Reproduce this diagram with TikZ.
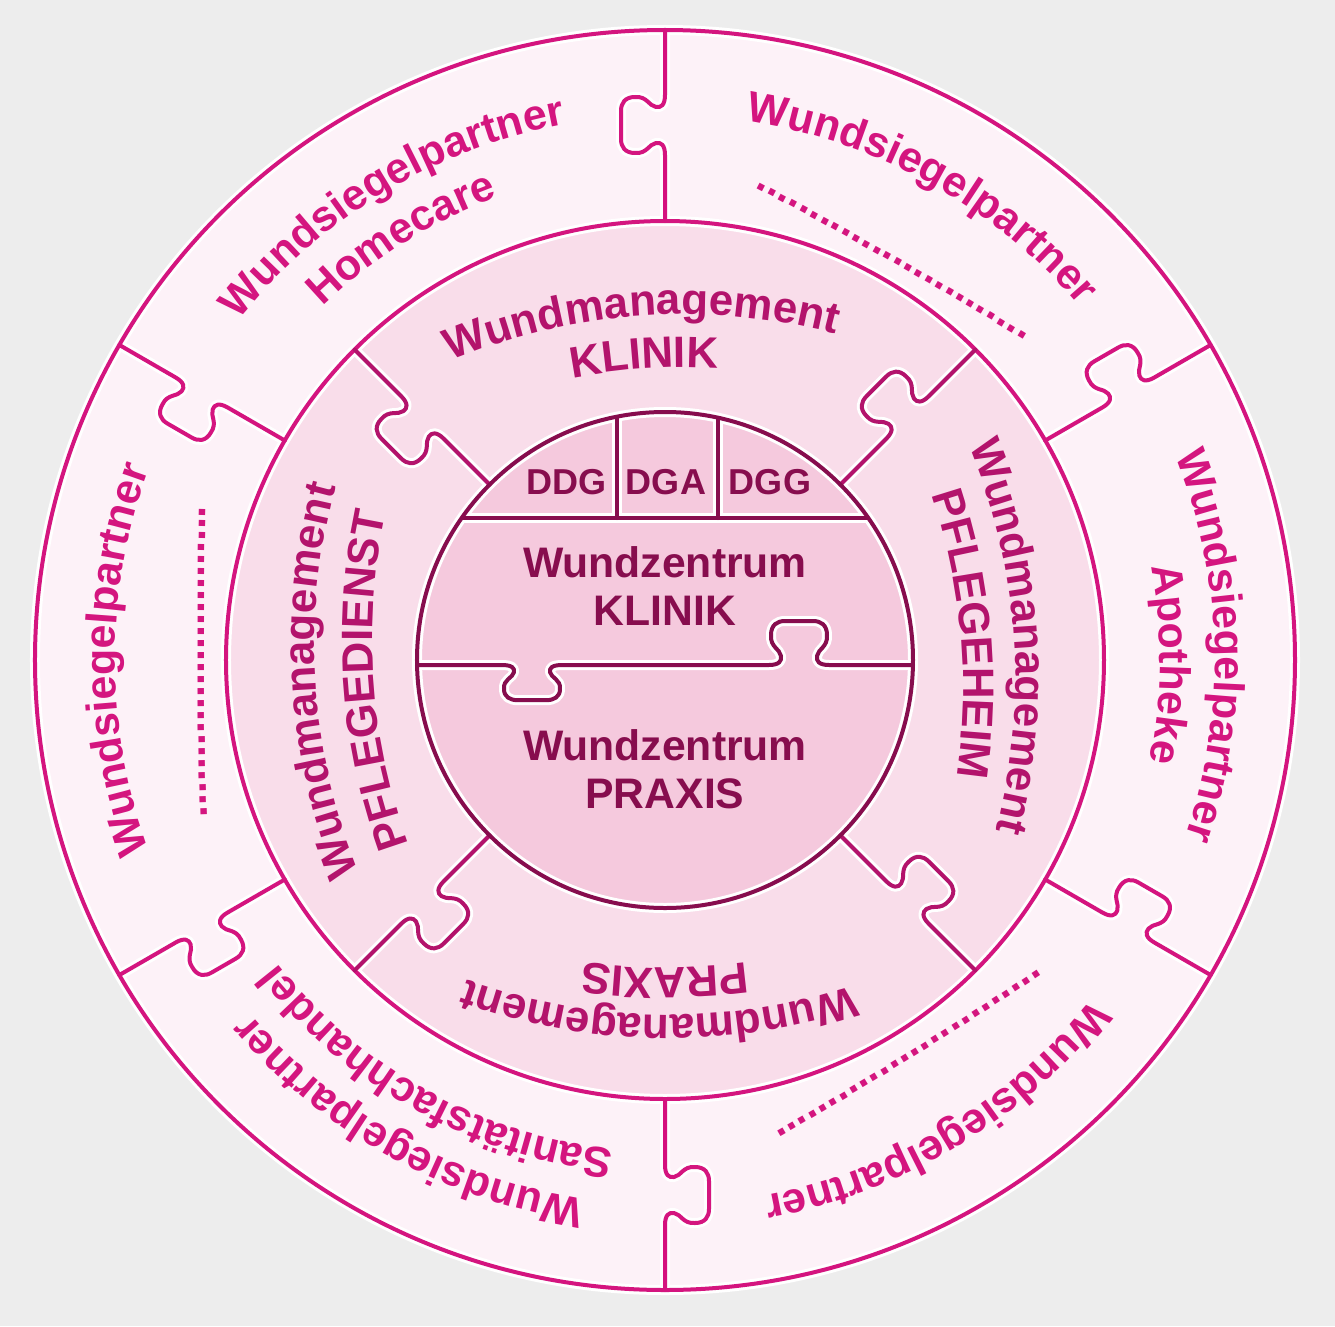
\documentclass[tikz,border=0pt]{standalone}
\usepackage{fontspec}
\setmainfont{Liberation Sans}
\usetikzlibrary{decorations.text}

\definecolor{bggray}{HTML}{EDEDED}
\definecolor{ringA}{HTML}{FDF2F8}
\definecolor{ringB}{HTML}{F9DDEA}
\definecolor{ringC}{HTML}{F5C9DD}
\definecolor{magA}{HTML}{D4157F}
\definecolor{magB}{HTML}{B3136C}
\definecolor{magC}{HTML}{870D4E}

% one puzzle knob on the local x axis, centred at #1, height scaled by #2
\newcommand\knob[2]{-- ({#1-30},0) .. controls ({#1-20},0) and ({#1-17},{4*#2}) .. ({#1-18},{9*#2})
  .. controls ({#1-19},{16*#2}) and ({#1-29},{18*#2}) .. ({#1-28},{30*#2})
  .. controls ({#1-28},{40*#2}) and ({#1-22},{44*#2}) .. ({#1-14},{44*#2}) -- ({#1+14},{44*#2})
  .. controls ({#1+22},{44*#2}) and ({#1+28},{40*#2}) .. ({#1+28},{30*#2})
  .. controls ({#1+29},{18*#2}) and ({#1+19},{16*#2}) .. ({#1+18},{9*#2})
  .. controls ({#1+17},{4*#2}) and ({#1+20},0) .. ({#1+30},0)}

% all cut lines of the puzzle: outer, middle, inner colour, width
\newcommand\puzzlelines[4]{%
  \draw[ln={#1}{#4}] (0,0) circle[radius=630] (0,0) circle[radius=439];
  \foreach \a in {30,90,...,330}
    \draw[ln={#1}{#4}, rotate=\a] (439,0) \knob{535}{1} -- (630,0);
  \foreach \a in {45,135,...,315}
    \draw[ln={#2}{#4}, rotate=\a] (248,0) \knob{343}{1} -- (439,0);
  \draw[ln={#3}{#4}] (0,0) circle[radius=248];
  \draw[ln={#3}{#4}] (-203,142) -- (203,142) (-48,142) -- (-48,243) (53,142) -- (53,242);
  \draw[ln={#3}{#4}, shift={(0,-5)}] (-248,0) \knob{-133}{-0.8} \knob{134}{1} -- (248,0);
}

% text on a clockwise arc: angle, radius, bend radius, half span, colour, size, text
\newcommand\ringtext[7]{%
  \path[decorate, decoration={text along path, text align=center, text color=#5,
      text={|\fontsize{#6}{#6}\selectfont\bfseries|#7}}, shift={(#1:#2-#3)}]
    (#1+#4:#3) arc[start angle=#1+#4, end angle=#1-#4, radius=#3];}

\begin{document}
\begin{tikzpicture}[x=0.02cm, y=0.02cm,
    ln/.style 2 args={draw=#1, line width=#2*0.02cm, line cap=round, line join=round},
    inner/.style={text=magC, font=\fontsize{24.3}{27.2}\selectfont\bfseries, align=center, inner sep=0pt},
    club/.style={text=magC, font=\fontsize{20.5}{24}\selectfont\bfseries, inner sep=0pt}]
  \useasboundingbox (-665,-666) rectangle (670,660);
  \fill[bggray] (-665,-666) rectangle (670,660);
  \fill[ringA] (0,0) circle[radius=630];
  \fill[ringB] (0,0) circle[radius=439];
  \fill[ringC] (0,0) circle[radius=248];
  %
  \puzzlelines{white}{white}{white}{10}
  \puzzlelines{magA}{magB}{magC}{4}
  %
  \node[club] (ddg) at (-98,178) {DDG};
  \node[club] (dga) at (1,178) {DGA};
  \node[club] (dgg) at (105,178) {DGG};
  \node[inner] (zklinik) at (0,74) {Wundzentrum\\KLINIK};
  \node[inner] (zpraxis) at (0,-109) {Wundzentrum\\PRAXIS};
  %
  \ringtext{94}{345}{600}{22}{magB}{25}{Wundmanagement}
  \ringtext{94}{292}{600}{22}{magB}{25}{KLINIK}
  \ringtext{4}{350}{600}{22}{magB}{25}{Wundmanagement}
  \ringtext{5}{297}{600}{22}{magB}{25}{PFLEGEHEIM}
  \ringtext{269}{355}{600}{22}{magB}{25}{Wundmanagement}
  \ringtext{270}{308}{600}{22}{magB}{25}{PRAXIS}
  \ringtext{183.5}{350}{600}{22}{magB}{25}{Wundmanagement}
  \ringtext{184}{292}{600}{22}{magB}{25}{PFLEGEDIENST}
  %
  \ringtext{121}{545}{545}{29}{magA}{24.5}{Wundsiegelpartner}
  \ringtext{122}{492}{492}{29}{magA}{24.5}{Homecare}
  \ringtext{61}{545}{545}{29}{magA}{24.5}{Wundsiegelpartner}
  \ringtext{60.4}{458}{5000}{2}{magA}{24.5}{..........................}
  \ringtext{1.5}{550}{550}{29}{magA}{24.5}{Wundsiegelpartner}
  \ringtext{-0.5}{495}{495}{29}{magA}{24.5}{Apotheke}
  \ringtext{301}{545}{545}{29}{magA}{24.5}{Wundsiegelpartner}
  \ringtext{301.8}{462}{5000}{2}{magA}{24.5}{..........................}
  \ringtext{241}{545}{545}{29}{magA}{24.5}{Wundsiegelpartner}
  \ringtext{241}{492}{492}{29}{magA}{24.5}{Sanitätsfachhandel}
  \ringtext{180}{550}{550}{29}{magA}{24.5}{Wundsiegelpartner}
  \ringtext{180.2}{461}{5000}{2}{magA}{24.5}{..........................}
\end{tikzpicture}
\end{document}
